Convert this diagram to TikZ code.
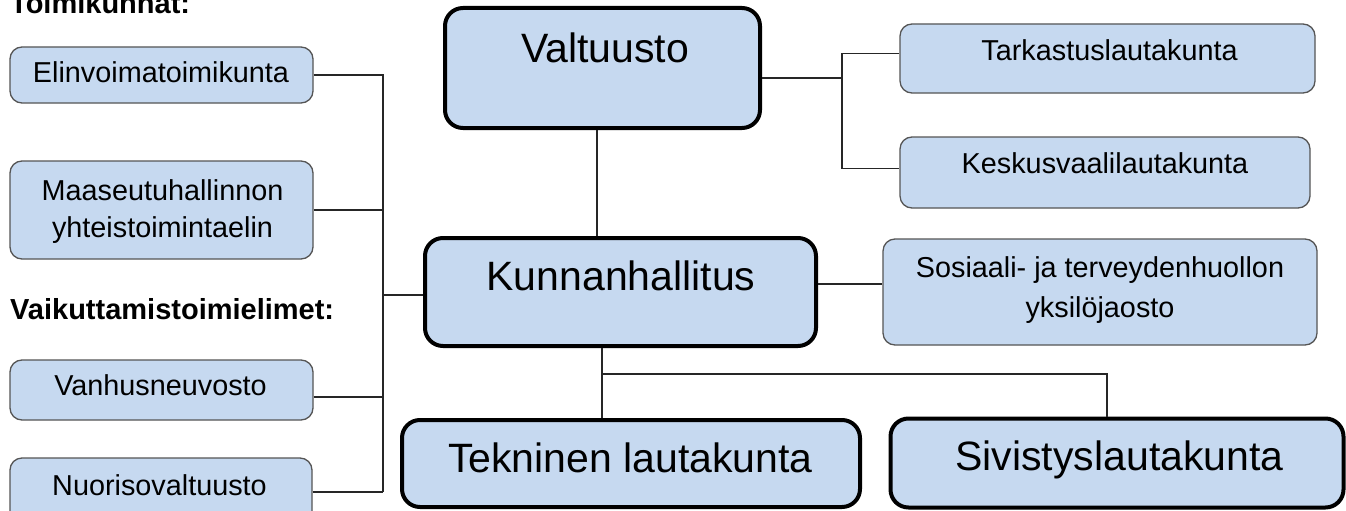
\documentclass[tikz,border=0pt]{standalone}
\usepackage{fontspec}
\setmainfont{Liberation Sans}
\definecolor{boxfill}{RGB}{198,217,240}
\definecolor{thinline}{RGB}{85,85,85}
\tikzset{
  thinbox/.style={draw=thinline, line width=1.3pt, fill=boxfill, rounded corners=12pt, inner sep=0pt},
  thickbox/.style={draw=black, line width=4pt, fill=boxfill, rounded corners=18pt, inner sep=0pt},
  conn/.style={draw=black!85, line width=1.3pt},
  bigtxt/.style={anchor=base, inner sep=0pt, font=\fontsize{41}{49}\selectfont},
  smalltxt/.style={anchor=base, inner sep=0pt, font=\fontsize{28.8}{36}\selectfont},
  headtxt/.style={anchor=base west, inner sep=0pt, font=\fontsize{29}{34}\selectfont\bfseries},
}
\begin{document}
\begin{tikzpicture}[x=1pt, y=-1pt]
\useasboundingbox (0,0) rectangle (1346,511);
\clip (0,0) rectangle (1346,511);
\fill[white] (0,0) rectangle (1346,511);

% bus coordinates
\coordinate (lbus) at (383,0);
\coordinate (rbus) at (842,0);
\coordinate (vk) at (597,0);
\coordinate (kb) at (602,0);
\coordinate (sv) at (1107,0);
\coordinate (tbus) at (0,374);

% left boxes
\node[thinbox, minimum width=303pt, minimum height=56pt] (elin) at (161.5,75) {};
\node[thinbox, minimum width=303pt, minimum height=98pt] (maas) at (161.5,210) {};
\node[thinbox, minimum width=303pt, minimum height=60pt] (vanh) at (161.5,390) {};
\node[thinbox, minimum width=302pt, minimum height=68pt] (nuor) at (161,492) {};

% right small boxes
\node[thinbox, minimum width=415pt, minimum height=69pt] (tark) at (1107.5,58.5) {};
\node[thinbox, minimum width=410pt, minimum height=71pt] (kesk) at (1105,172.5) {};
\node[thinbox, minimum width=434pt, minimum height=106pt] (sosi) at (1100,292) {};

% main boxes
\node[thickbox, minimum width=315pt, minimum height=120pt] (valt) at (602.5,68) {};
\node[thickbox, minimum width=391pt, minimum height=108pt] (kunn) at (620.5,292) {};
\node[thickbox, minimum width=458pt, minimum height=87pt] (tekn) at (631,463.5) {};
\node[thickbox, minimum width=453pt, minimum height=89pt] (sivi) at (1117,463) {};

% connectors left
\draw[conn] (elin.east) -- (elin.east -| lbus) -- (nuor.east -| lbus);
\draw[conn] (maas.east) -- (maas.east -| lbus);
\draw[conn] ([yshift=-3pt]kunn.west) -- ([yshift=-3pt]kunn.west -| lbus);
\draw[conn] ([yshift=-7pt]vanh.east) -- ([yshift=-7pt]vanh.east -| lbus);
\draw[conn] (nuor.east) -- (nuor.east -| lbus);

% connectors top right
\draw[conn] ([yshift=-10pt]valt.east) -- ([yshift=-10pt]valt.east -| rbus);
\draw[conn] ([yshift=5pt]tark.west) -- ([yshift=5pt]tark.west -| rbus) -- ([yshift=4pt]kesk.west -| rbus) -- ([yshift=4pt]kesk.west);

% vertical Valtuusto - Kunnanhallitus
\draw[conn] (valt.south -| vk) -- (kunn.north -| vk);

% Kunnanhallitus - Sosiaali
\draw[conn] ([yshift=8pt]kunn.east) -- ([yshift=8pt]sosi.west);

% Kunnanhallitus - bottom
\draw[conn] (kunn.south -| kb) -- (tekn.north -| kb);
\draw[conn] (tbus -| kb) -- (tbus -| sv) -- (sivi.north -| sv);

% texts
\node[headtxt] (toim) at (10,14) {Toimikunnat:};
\node[headtxt] (vaik) at (10,319) {Vaikuttamistoimielimet:};

\node[smalltxt] (elinT) at (161,82) {Elinvoimatoimikunta};
\node[smalltxt] (maasT1) at (162.5,200) {Maaseutuhallinnon};
\node[smalltxt] (maasT2) at (162.5,237) {yhteistoimintaelin};
\node[smalltxt] (vanhT) at (160.5,395) {Vanhusneuvosto};
\node[smalltxt] (nuorT) at (159.5,495) {Nuorisovaltuusto};

\node[smalltxt] (tarkT) at (1109.5,60) {Tarkastuslautakunta};
\node[smalltxt] (keskT) at (1105,173) {Keskusvaalilautakunta};
\node[smalltxt] (sosiT1) at (1100,277) {Sosiaali- ja terveydenhuollon};
\node[smalltxt] (sosiT2) at (1100,317) {yksilöjaosto};

\node[bigtxt] (valtT) at (605,63) {Valtuusto};
\node[bigtxt] (kunnT) at (621,290) {Kunnanhallitus};
\node[bigtxt] (teknT) at (630.5,472) {Tekninen lautakunta};
\node[bigtxt] (siviT) at (1119.5,470) {Sivistyslautakunta};
\end{tikzpicture}
\end{document}
